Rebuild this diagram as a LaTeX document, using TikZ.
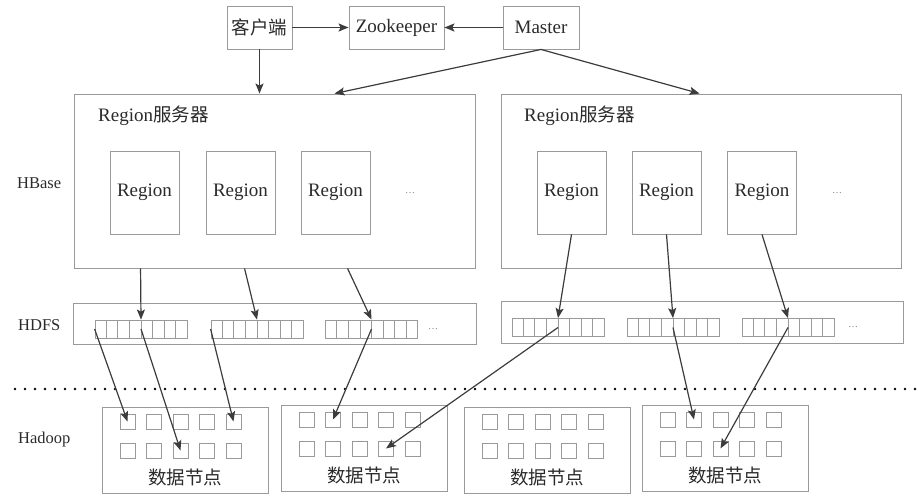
\documentclass[tikz,border=0pt]{standalone}
\usepackage{fontspec}
\setmainfont{Liberation Serif}
\newfontfamily\cjk{Noto Sans CJK SC}
\usetikzlibrary{arrows.meta,calc}
\definecolor{boxgray}{HTML}{9A9A9A}
\definecolor{linegray}{HTML}{3C3C3C}
\definecolor{txt}{HTML}{2A2A2A}
\begin{document}
\begin{tikzpicture}[x=1pt,y=-1pt,
  box/.style={draw=boxgray, line width=0.9pt, rectangle, inner sep=0pt, text=txt, font=\fontsize{19}{22}\selectfont},
  sq/.style={draw=boxgray, line width=0.9pt, rectangle, inner sep=0pt, minimum width=15pt, minimum height=15pt},
  grp/.style={draw=boxgray, line width=0.8pt, rectangle, inner sep=0pt, minimum width=92pt, minimum height=18pt},
  arr/.style={draw=linegray, line width=1.2pt, -{Stealth[length=10pt,width=8pt,inset=2pt]}},
  lbl/.style={font=\fontsize{19}{22}\selectfont, text=txt, inner sep=0pt},
  side/.style={font=\fontsize{16.5}{20}\selectfont, text=txt, inner sep=0pt, anchor=west},
  ell/.style={font=\fontsize{10}{12}\selectfont, text=gray, inner sep=0pt}]
\useasboundingbox (0,0) rectangle (918,500);
% top
\node[box, minimum width=65pt, minimum height=43pt] (cl) at (259.5,27.5) {\cjk\fontsize{18.5}{22}\selectfont 客户端};
\node[box, minimum width=95pt, minimum height=43pt] (zk) at (396.5,27.5) {Zookeeper};
\node[box, minimum width=76pt, minimum height=43pt] (ms) at (541,27.5) {Master};
% servers
\node[box, minimum width=401pt, minimum height=174pt] (srvL) at (274.5,181) {};
\node[box, minimum width=400pt, minimum height=174pt] (srvR) at (701,181) {};
\node[lbl, anchor=west] (tL) at (98,116) {Region{\cjk\fontsize{18.5}{22}\selectfont 服务器}};
\node[lbl, anchor=west] (tR) at (524,116) {Region{\cjk\fontsize{18.5}{22}\selectfont 服务器}};
\foreach \n/\x in {rL1/144.5, rL2/240.5, rL3/335.5, rR1/571.5, rR2/666.5, rR3/762}
  \node[box, minimum width=69pt, minimum height=83pt] (\n) at (\x,192.5) {Region};
\node[ell] (eL) at (410,193) {…};
\node[ell] (eR) at (837,193) {…};
% HDFS
\node[box, minimum width=403pt, minimum height=41pt] (hdL) at (274.5,323.5) {};
\node[box, minimum width=402pt, minimum height=42pt] (hdR) at (702,322) {};
\foreach \n/\x/\y in {gL1/141/329, gL2/257/329, gL3/371.5/329, gR1/558/327.5, gR2/673/327.5, gR3/788/327.5}{
  \node[grp] (\n) at (\x,\y) {};
  \foreach \i in {1,...,7}
    \draw[boxgray, line width=0.8pt] ($(\n.north west)!\i/8!(\n.north east)$) -- ($(\n.south west)!\i/8!(\n.south east)$);
}
\node[ell] (eH1) at (433,329) {…};
\node[ell] (eH2) at (853,327) {…};
% dotted separator
\draw[black, line width=2.8pt, line cap=round, dash pattern=on 0pt off 10pt] (15,389) -- (918,389);
% data nodes
\foreach \d/\x/\y in {1/102/407, 2/281/405, 3/464/407, 4/642/405}{
  \node[box, minimum width=166pt, minimum height=86pt] (d\d) at (\x+83,\y+43) {};
  \foreach \c in {0,...,4}{
    \node[sq] (d\d-a\c) at (\x+25.5+\c*26.5,\y+14.5) {};
    \node[sq] (d\d-b\c) at (\x+25.5+\c*26.5,\y+43.5) {};
  }
  \node[lbl] (d\d-t) at (\x+83,\y+70) {\cjk\fontsize{18.5}{22}\selectfont 数据节点};
}
% side labels
\node[side] (hb) at (17,183) {HBase};
\node[side] (hf) at (18,325) {HDFS};
\node[side] (hd) at (18,440) {Hadoop};
% arrows top
\draw[arr] (cl.east) -- (zk.west);
\draw[arr] (ms.west) -- (zk.east);
\draw[arr] (cl.south) -- (cl.south |- srvL.north);
\draw[arr] (ms.south) -- ($(srvL.north west)+(261,0)$);
\draw[arr] (ms.south) -- ($(srvR.north west)+(199,0)$);
% server to HDFS
\draw[arr] ($(srvL.south west)+(67,0)$) -- (gL1.north);
\draw[arr] ($(srvL.south west)+(171,0)$) -- (gL2.north);
\draw[arr] ($(srvL.south west)+(274,0)$) -- (gL3.north);
\draw[arr] (rR1.south) -- (gR1.north);
\draw[arr] (rR2.south) -- (gR2.north);
\draw[arr] (rR3.south) -- (gR3.north);
% HDFS to data nodes
\draw[arr] (gL1.west) -- (d1-a0.center);
\draw[arr] (gL1.center) -- (d1-b2.center);
\draw[arr] (gL2.west) -- (d1-a4.center);
\draw[arr] (gL3.center) -- (d2-a1.center);
\draw[arr] (gR1.center) -- (d2-b3.center);
\draw[arr] (gR2.center) -- (d4-a1.center);
\draw[arr] (gR3.center) -- (d4-b2.center);
\end{tikzpicture}
\end{document}
